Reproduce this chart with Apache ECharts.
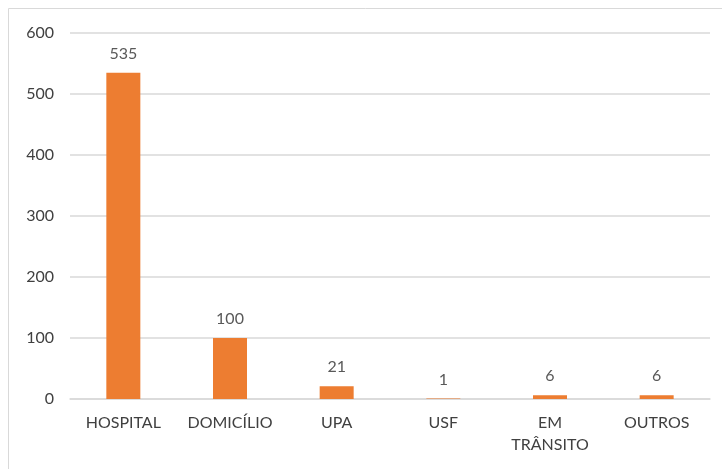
<!DOCTYPE html>
<html>
<head>
<meta charset="utf-8">
<script src="https://cdn.jsdelivr.net/npm/echarts@6/dist/echarts.min.js"></script>
<style>
  html, body { margin: 0; padding: 0; background: #fff; }
  #chart { width: 722px; height: 469px; }
</style>
</head>
<body>
<div id="chart"></div>
<script>
const categories = ["HOSPITAL", "DOMICÍLIO", "UPA", "USF", "EM\nTRÂNSITO", "OUTROS"];
const values = [535, 100, 21, 1, 6, 6];
const yTicks = [0, 100, 200, 300, 400, 500, 600];

const chart = echarts.init(document.getElementById("chart"));
const font = "Lato, 'Open Sans', sans-serif";

const option = {
  animation: false,
  graphic: [
    {
      type: "rect",
      shape: { x: 8.5, y: 8.5, width: 720, height: 470 },
      style: { fill: "none", stroke: "#d9d9d9", lineWidth: 1 },
    },
  ],
  grid: {
    left: 70,
    right: 12,
    top: 33,
    bottom: 70,
    containLabel: false,
  },
  xAxis: {
    type: "category",
    data: categories,
    axisLine: { lineStyle: { color: "#d9d9d9", width: 1.5 } },
    axisTick: { show: false },
    axisLabel: {
      color: "#404040",
      fontFamily: font,
      fontSize: 16,
      margin: 13,
      lineHeight: 22,
      interval: 0,
    },
  },
  yAxis: {
    type: "value",
    min: yTicks[0],
    max: yTicks[yTicks.length - 1],
    interval: 100,
    axisLine: { show: false },
    axisTick: { show: false },
    splitLine: { lineStyle: { color: "#d9d9d9", width: 1.5 } },
    axisLabel: {
      color: "#404040",
      fontFamily: font,
      fontSize: 16,
      margin: 16,
    },
  },
  series: [
    {
      type: "bar",
      data: values,
      barWidth: 34,
      itemStyle: { color: "#ED7D31" },
      label: {
        show: true,
        position: "top",
        distance: 11,
        color: "#595959",
        fontFamily: font,
        fontSize: 16,
      },
    },
  ],
};
option && chart.setOption(option);
</script>
</body>
</html>
